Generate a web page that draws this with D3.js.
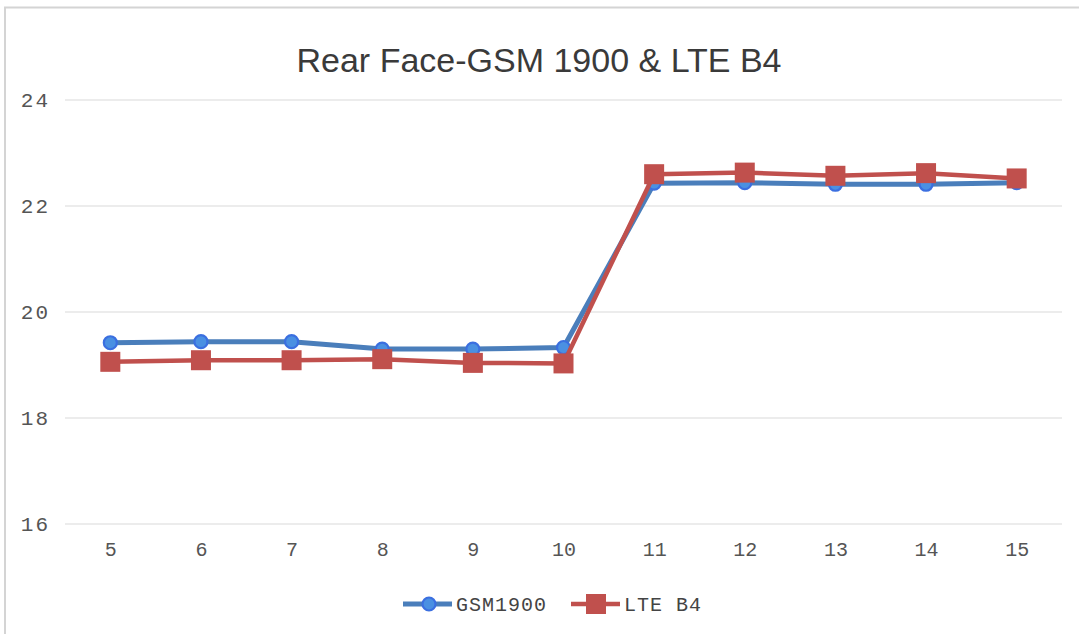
<!DOCTYPE html>
<html>
<head>
<meta charset="utf-8">
<script src="https://cdn.jsdelivr.net/npm/d3@7"></script>
<style>
html,body{margin:0;padding:0;background:#fff;}
svg{display:block;}
</style>
</head>
<body>
<svg id="chart" width="1079" height="634"></svg>
<script>
const categories = ["5","6","7","8","9","10","11","12","13","14","15"];
const gsm1900 = [19.42,19.44,19.44,19.30,19.30,19.33,22.43,22.44,22.41,22.41,22.44];
const lteB4 = [19.06,19.09,19.09,19.11,19.04,19.03,22.60,22.63,22.57,22.62,22.52];
const yTicks = [16,18,20,22,24];
const yTickLabels = ["16","18","20","22","24"];
const seriesNames = ["GSM1900","LTE B4"];
const titleText = "Rear Face-GSM 1900 & LTE B4";

(function(){
const svg = d3.select("#chart");
const W = 1079, H = 634;
const pLeft = 65, pRight = 1062, pTop = 100, pBottom = 524;

// frame
svg.append("line").attr("x1",4).attr("x2",W).attr("y1",7.5).attr("y2",7.5).attr("stroke","#d4d4d4").attr("stroke-width",2);
svg.append("line").attr("x1",5).attr("x2",5).attr("y1",7).attr("y2",H).attr("stroke","#d4d4d4").attr("stroke-width",2);

const x = d3.scalePoint().domain(categories).range([pLeft, pRight]).padding(0.5);
const y = d3.scaleLinear().domain([16,24]).range([pBottom, pTop]);

// gridlines
svg.append("g").selectAll("line").data(yTicks).join("line")
  .attr("x1",pLeft).attr("x2",pRight)
  .attr("y1",d=>y(d)).attr("y2",d=>y(d))
  .attr("stroke","#d9d9d9").attr("stroke-width",1.2);

const tickFont = "'Liberation Mono', 'DejaVu Sans Mono', monospace";

// y axis labels
const yAxis = d3.axisLeft(y).tickValues(yTicks).tickFormat((d,i)=>yTickLabels[i]).tickSize(0).tickPadding(0);
const gy = svg.append("g").attr("transform","translate(50,0)").call(yAxis);
gy.select(".domain").remove();
gy.selectAll("text").attr("font-family",tickFont).attr("font-size",21).attr("letter-spacing",2)
  .attr("fill","#555").attr("dy","0.3em");

// x axis labels
const xAxis = d3.axisBottom(x).tickSize(0).tickPadding(0);
const gx = svg.append("g").attr("transform","translate(0,544)").call(xAxis);
gx.select(".domain").remove();
gx.selectAll("text").attr("font-family",tickFont).attr("font-size",20)
  .attr("fill","#555").attr("dy","0.6em");

// title
svg.append("text").attr("x",539).attr("y",72).attr("text-anchor","middle")
  .attr("font-family","'Liberation Sans', Arial, sans-serif").attr("font-size",34)
  .attr("fill","#3a3a3a").text(titleText);

const line = d3.line().x((d,i)=>x(categories[i])).y(d=>y(d));

// GSM line
svg.append("path").datum(gsm1900).attr("d",line).attr("fill","none")
  .attr("stroke","#4a7ebb").attr("stroke-width",5).attr("stroke-linejoin","round");
svg.append("g").selectAll("circle").data(gsm1900).join("circle")
  .attr("cx",(d,i)=>x(categories[i])).attr("cy",d=>y(d)).attr("r",6.5)
  .attr("fill","#4a90e2").attr("stroke","#3b6fe0").attr("stroke-width",2.2);

// LTE line
svg.append("path").datum(lteB4).attr("d",line).attr("fill","none")
  .attr("stroke","#c0504d").attr("stroke-width",4.5).attr("stroke-linejoin","round");
svg.append("g").selectAll("rect").data(lteB4).join("rect")
  .attr("x",(d,i)=>x(categories[i])-10).attr("y",d=>y(d)-10)
  .attr("width",20).attr("height",20).attr("fill","#c0504d");

// legend
const ly = 604;
const lg = svg.append("g");
lg.append("line").attr("x1",403).attr("x2",452).attr("y1",ly).attr("y2",ly).attr("stroke","#4a7ebb").attr("stroke-width",5);
lg.append("circle").attr("cx",429).attr("cy",ly).attr("r",6.5).attr("fill","#4a90e2").attr("stroke","#3b6fe0").attr("stroke-width",2.2);
lg.append("text").attr("x",456).attr("y",ly).attr("dy","0.35em").attr("font-family",tickFont).attr("font-size",20).attr("letter-spacing",1).attr("fill","#444").text(seriesNames[0]);
lg.append("line").attr("x1",571).attr("x2",620).attr("y1",ly).attr("y2",ly).attr("stroke","#c0504d").attr("stroke-width",4.5);
lg.append("rect").attr("x",586).attr("y",ly-10).attr("width",20).attr("height",20).attr("fill","#c0504d");
lg.append("text").attr("x",624).attr("y",ly).attr("dy","0.35em").attr("font-family",tickFont).attr("font-size",20).attr("letter-spacing",1).attr("fill","#444").text(seriesNames[1]);
})();
</script>
</body>
</html>
